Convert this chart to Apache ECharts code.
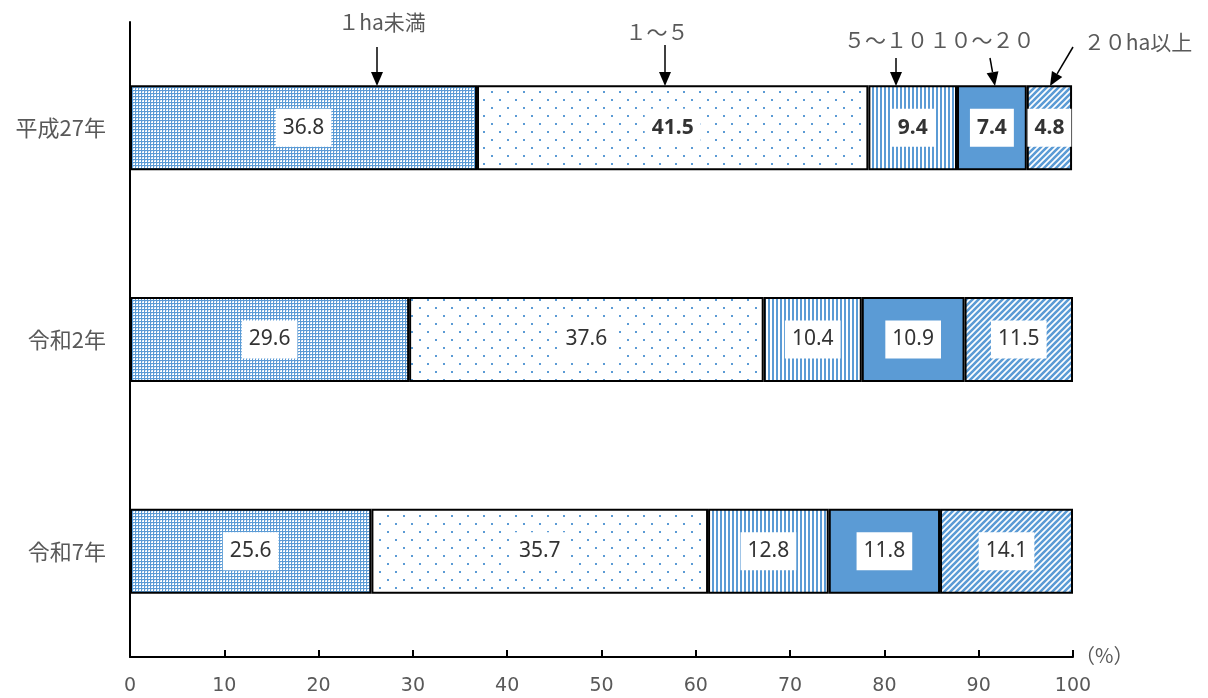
<!DOCTYPE html>
<html><head><meta charset="utf-8">
<script src="https://cdn.jsdelivr.net/npm/echarts@6/dist/echarts.min.js"></script>
<style>html,body{margin:0;padding:0;background:#fff}#c{width:1208px;height:698px}</style>
</head><body><div id="c"></div>
<script>
const categories = ['平成27年', '令和2年', '令和7年'];
const seriesNames = ['１ha未満', '１〜５', '５〜１０', '１０〜２０', '２０ha以上'];
const s1 = [36.8, 29.6, 25.6];
const s2 = [41.5, 37.6, 35.7];
const s3 = [9.4, 10.4, 12.8];
const s4 = [7.4, 10.9, 11.8];
const s5 = [4.8, 11.5, 14.1];
const xTicks = [0,10,20,30,40,50,60,70,80,90,100];

const BLUE = '#5b9bd5';
function tile(w, h, draw) {
  const c = document.createElement('canvas'); c.width = w; c.height = h;
  const g = c.getContext('2d'); draw(g); return c;
}
const pGrid = tile(3, 3, g => { g.fillStyle = '#fff'; g.fillRect(0,0,3,3); g.fillStyle = BLUE; g.fillRect(0,0,3,1); g.fillRect(0,0,1,3); g.fillStyle = '#c5dbf1'; g.fillRect(1,1,1,1); });
const pDots = tile(16, 16, g => { g.fillStyle = '#fff'; g.fillRect(0,0,16,16); g.fillStyle = BLUE; g.fillRect(3,3,2,2); g.fillRect(11,11,2,2); });
const pVert = tile(4, 4, g => { g.fillStyle = '#fff'; g.fillRect(0,0,4,4); g.fillStyle = BLUE; g.fillRect(0,0,2,4); });
const pDiag = tile(6, 6, g => { g.fillStyle = '#fff'; g.fillRect(0,0,6,6); g.strokeStyle = BLUE; g.lineWidth = 2.6;
  g.beginPath(); g.moveTo(-1,7); g.lineTo(7,-1); g.moveTo(-4,4); g.lineTo(4,-4); g.moveTo(2,10); g.lineTo(10,2); g.stroke(); });

const fills = [
  {image: pGrid, repeat: 'repeat'},
  {image: pDots, repeat: 'repeat'},
  {image: pVert, repeat: 'repeat'},
  BLUE,
  {image: pDiag, repeat: 'repeat'}
];
const values = [s1, s2, s3, s4, s5];

const FONT = '"Noto Sans CJK JP", "Noto Sans", sans-serif';
const series = values.map((v, i) => ({
  name: seriesNames[i], type: 'bar', stack: 'a', barWidth: 85,
  data: v.map((val, j) => ({value: val,
    label: {fontWeight: (j === 0 && i > 0) ? 'bold' : 'normal'}})),
  itemStyle: {color: fills[i], borderColor: '#000', borderWidth: 2},
  label: {show: true, position: 'inside', formatter: p => p.value.toFixed(1),
    backgroundColor: '#fff', padding: [9, 7, 8, 7], color: '#333',
    fontSize: 21, fontFamily: '"Noto Sans", sans-serif'},
  emphasis: {disabled: true}
}));

function arrow(x1, y1, x2, y2) {
  const ang = Math.atan2(y2 - y1, x2 - x1), L = 14, W = 6;
  const bx = x2 - L * Math.cos(ang), by = y2 - L * Math.sin(ang);
  const nx = -Math.sin(ang) * W, ny = Math.cos(ang) * W;
  return [
    {type: 'line', shape: {x1, y1, x2: bx, y2: by}, style: {stroke: '#000', lineWidth: 1.5}},
    {type: 'polygon', shape: {points: [[x2, y2], [bx + nx, by + ny], [bx - nx, by - ny]]}, style: {fill: '#000'}}
  ];
}
function note(text, x, y) {
  return {type: 'text', x, y, style: {text, fill: '#595959', font: '21px ' + FONT, textAlign: 'center', textVerticalAlign: 'middle'}};
}
const graphics = [
  note(seriesNames[0], 382, 22), ...arrow(377, 47, 377, 86),
  note(seriesNames[1], 657, 32), ...arrow(665, 45, 665, 86),
  note(seriesNames[2], 886, 40), ...arrow(896, 58, 896, 86),
  note(seriesNames[3], 982, 40), ...arrow(990, 58, 995, 86),
  note(seriesNames[4], 1138, 42), ...arrow(1073, 47, 1050, 86)
];

const chart = echarts.init(document.getElementById('c'));
chart.setOption({
  animation: false,
  textStyle: {fontFamily: FONT},
  grid: {left: 130, right: 135, top: 22, bottom: 41, containLabel: false},
  xAxis: {type: 'value', min: xTicks[0], max: xTicks[xTicks.length - 1], interval: 10,
    name: '（%）', nameLocation: 'end', nameGap: 2,
    nameTextStyle: {color: '#595959', fontSize: 20, verticalAlign: 'bottom', padding: [0, 0, -8, 0]},
    axisLine: {show: true, lineStyle: {color: '#000', width: 2}},
    axisTick: {show: true, inside: true, length: 7, lineStyle: {color: '#000', width: 2}},
    axisLabel: {color: '#595959', fontSize: 19, margin: 20, fontFamily: '"DejaVu Sans", sans-serif'},
    splitLine: {show: false}},
  yAxis: {type: 'category', data: categories, inverse: true,
    axisLine: {show: true, lineStyle: {color: '#000', width: 2}},
    axisTick: {show: false},
    axisLabel: {color: '#595959', fontSize: 22, margin: 24}},
  series,
  graphic: graphics
});
</script></body></html>
